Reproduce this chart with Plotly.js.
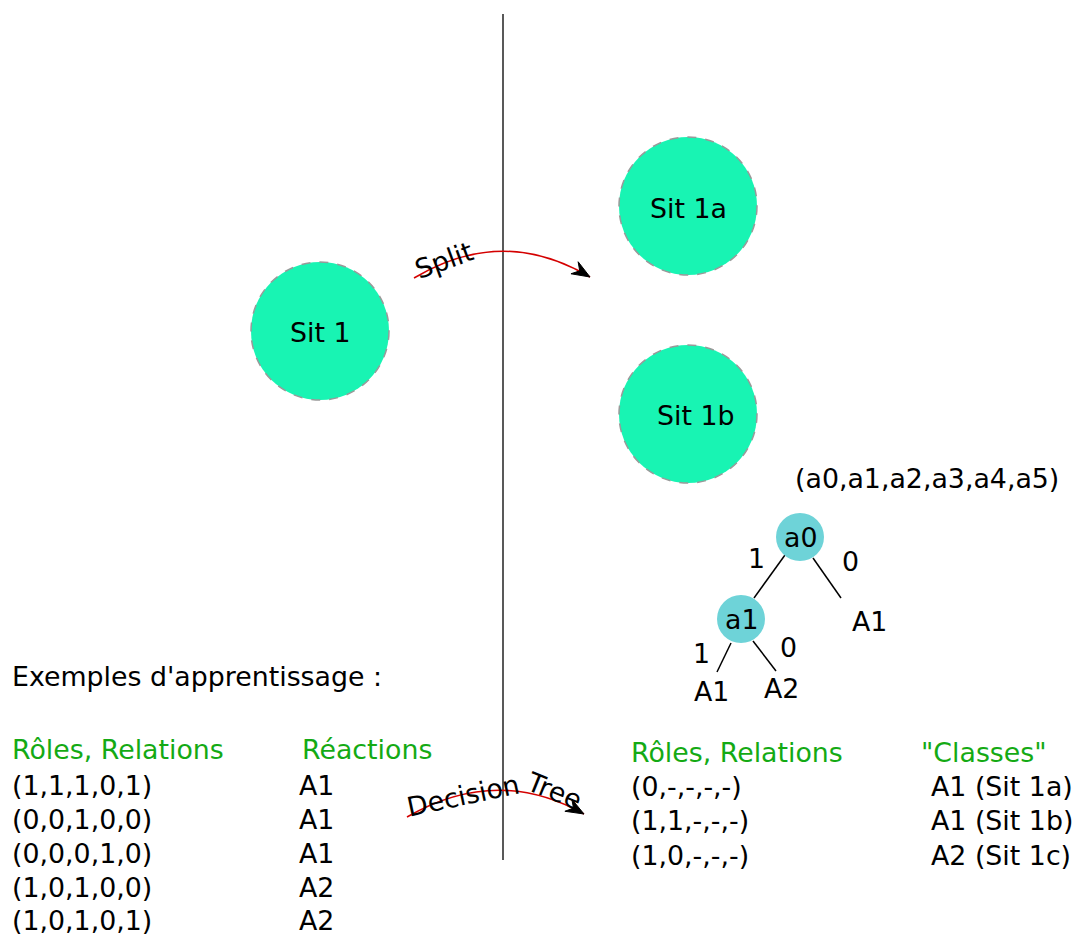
<!DOCTYPE html>
<html>
<head>
<meta charset="utf-8">
<script src="https://cdn.plot.ly/plotly-3.0.1.min.js"></script>
<style>html,body{margin:0;padding:0;background:#fff;}#chart{width:1077px;height:936px;}</style>
</head>
<body>
<div id="chart"></div>
<script>
// ---- data ----
const situationLabels = ["Sit 1", "Sit 1a", "Sit 1b"];
const treeNodeLabels = ["a0", "a1"];
const treeEdgeLabels = ["1", "0", "1", "0"];
const treeLeafLabels = ["A1", "A1", "A2"];
const attributeTuple = "(a0,a1,a2,a3,a4,a5)";
const exampleTitle = "Exemples d'apprentissage :";
const leftHeaders = ["Rôles, Relations", "Réactions"];
const exampleInputs = ["(1,1,1,0,1)", "(0,0,1,0,0)", "(0,0,0,1,0)", "(1,0,1,0,0)", "(1,0,1,0,1)"];
const exampleReactions = ["A1", "A1", "A1", "A2", "A2"];
const rightHeaders = ["Rôles, Relations", "\"Classes\""];
const ruleInputs = ["(0,-,-,-,-)", "(1,1,-,-,-)", "(1,0,-,-,-)"];
const ruleClasses = ["A1 (Sit 1a)", "A1 (Sit 1b)", "A2 (Sit 1c)"];
const arrowLabels = ["Split", "Decision", "Tree"];

// ---- geometry / styles ----
const FONT = "DejaVu Sans, sans-serif";
const FS = 26.8;
const GREEN = "#14aa14";
const MINT = "#18f4b3";
const TEAL = "#6ed3d8";

const sitPos = [[320, 331], [688, 206], [688, 414]];
const sitTextPos = [[320, 332], [688, 208], [696, 415]];
const sitR = 69;
const nodePos = [[800, 537], [741, 619]];
const nodeR = 24;
const edges = [[[785, 555], [754, 598]], [[813, 558], [841, 598]], [[731, 643], [717, 672]], [[753, 641], [776, 671]]];
const edgeLabelPos = [[756, 558], [850, 561], [701, 653], [788, 647]];
const leafPos = [[869, 621], [711, 691], [781, 688]];

const shapes = [];
const annotations = [];
function txt(s, x, y, opt) {
  opt = opt || {};
  annotations.push(Object.assign({
    text: s, x: x, y: y, xref: "x", yref: "y", showarrow: false,
    xanchor: opt.xa || "center", yanchor: "middle",
    font: {family: FONT, size: opt.size || FS, color: opt.color || "#000"},
    textangle: opt.angle || 0, borderpad: 0
  }));
}

// vertical separator
shapes.push({type: "line", xref: "x", yref: "y", x0: 503, x1: 503, y0: 14, y1: 860, line: {color: "#222", width: 1.5}});

// situation circles
sitPos.forEach((p, i) => {
  shapes.push({type: "circle", xref: "x", yref: "y", x0: p[0] - sitR, x1: p[0] + sitR, y0: p[1] - sitR, y1: p[1] + sitR,
    fillcolor: MINT, line: {color: "#999", width: 1.5, dash: "dash"}});
  txt(situationLabels[i], sitTextPos[i][0], sitTextPos[i][1]);
});

// curved arrows
function curvedArrow(p0, q, p1) {
  shapes.push({type: "path", xref: "x", yref: "y",
    path: `M ${p0[0]} ${p0[1]} Q ${q[0]} ${q[1]} ${p1[0]} ${p1[1]}`,
    line: {color: "#d40000", width: 1.5}});
  let dx = p1[0] - q[0], dy = p1[1] - q[1];
  const L = Math.hypot(dx, dy); dx /= L; dy /= L;
  const nx = -dy, ny = dx;
  const len = 18, w = 7, notch = 12;
  const bx = p1[0] - len * dx, by = p1[1] - len * dy;
  const kx = p1[0] - notch * dx, ky = p1[1] - notch * dy;
  shapes.push({type: "path", xref: "x", yref: "y",
    path: `M ${p1[0]} ${p1[1]} L ${bx + w * nx} ${by + w * ny} L ${kx} ${ky} L ${bx - w * nx} ${by - w * ny} Z`,
    fillcolor: "#000", line: {color: "#000", width: 1}});
}
curvedArrow([414, 278], [503, 225], [590, 277]);
curvedArrow([407, 817], [497, 765], [584, 814]);
txt(arrowLabels[0], 443, 260, {angle: -20});
txt(arrowLabels[1], 463, 795, {angle: -12});
txt(arrowLabels[2], 554, 790, {angle: 22});

// decision tree
edges.forEach(e => shapes.push({type: "line", xref: "x", yref: "y", x0: e[0][0], y0: e[0][1], x1: e[1][0], y1: e[1][1], line: {color: "#000", width: 1.5}}));
nodePos.forEach((p, i) => {
  shapes.push({type: "circle", xref: "x", yref: "y", x0: p[0] - nodeR, x1: p[0] + nodeR, y0: p[1] - nodeR, y1: p[1] + nodeR,
    fillcolor: TEAL, line: {width: 0}});
  txt(treeNodeLabels[i], p[0], p[1]);
});
treeEdgeLabels.forEach((s, i) => txt(s, edgeLabelPos[i][0], edgeLabelPos[i][1]));
treeLeafLabels.forEach((s, i) => txt(s, leafPos[i][0], leafPos[i][1]));
txt(attributeTuple, 927, 478);

// left table
txt(exampleTitle, 11, 676, {xa: "left"});
txt(leftHeaders[0], 11, 749, {xa: "left", color: GREEN});
txt(leftHeaders[1], 301, 749, {xa: "left", color: GREEN});
const leftRowY = [785, 819, 853, 887, 920];
exampleInputs.forEach((s, i) => txt(s, 11, leftRowY[i], {xa: "left"}));
exampleReactions.forEach((s, i) => txt(s, 298, leftRowY[i], {xa: "left"}));

// right table
txt(rightHeaders[0], 630, 752, {xa: "left", color: GREEN});
txt(rightHeaders[1], 920, 752, {xa: "left", color: GREEN});
const rightRowY = [786, 820, 855];
ruleInputs.forEach((s, i) => txt(s, 630, rightRowY[i], {xa: "left"}));
ruleClasses.forEach((s, i) => txt(s, 930, rightRowY[i], {xa: "left"}));

const layout = {
  width: 1077, height: 936,
  margin: {l: 0, r: 0, t: 0, b: 0},
  paper_bgcolor: "#fff", plot_bgcolor: "#fff",
  xaxis: {range: [0, 1077], visible: false, fixedrange: true},
  yaxis: {range: [936, 0], visible: false, fixedrange: true},
  showlegend: false,
  shapes: shapes,
  annotations: annotations
};
Plotly.newPlot("chart", [], layout, {displayModeBar: false, staticPlot: true});
</script>
</body>
</html>
